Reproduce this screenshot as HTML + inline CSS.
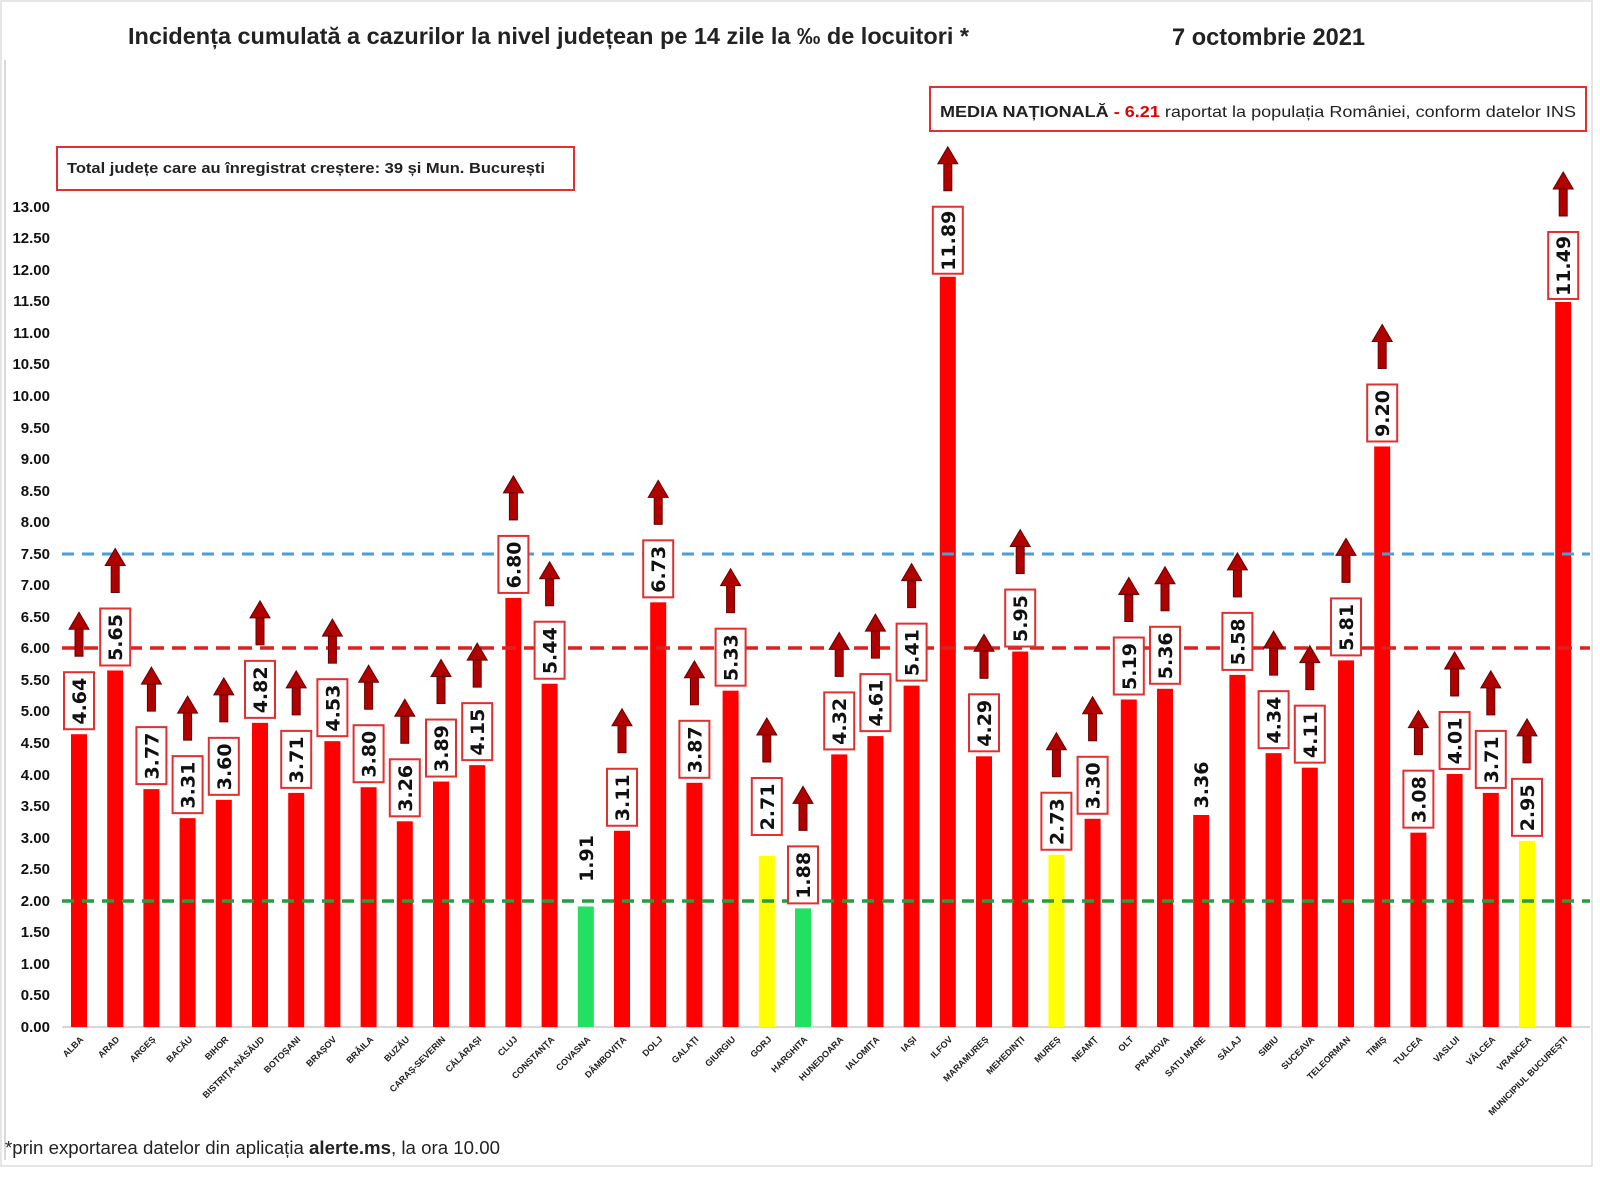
<!DOCTYPE html>
<html><head><meta charset="utf-8"><style>
html,body{margin:0;padding:0;background:#fff;width:1600px;height:1200px;overflow:hidden}
svg{display:block;font-family:"Liberation Sans",sans-serif}
.yl{font-size:15px;font-weight:bold;fill:#111;text-anchor:end}
.xl{font-size:9px;font-weight:bold;fill:#222;text-anchor:end}
.v{font-size:19px;font-weight:bold;fill:#111;text-anchor:middle;font-family:"DejaVu Sans",sans-serif}
.bx{fill:#fff;stroke:#e03030;stroke-width:2}
.ar{fill:#b00000;stroke:#600;stroke-width:1}
</style></head><body>
<svg width="1600" height="1200" viewBox="0 0 1600 1200">
<defs>
<g id="lab"><rect class="bx" x="-15" y="-62" width="30" height="57"/></g>
<g id="arr"><rect class="ar" x="-4" y="-106" width="8" height="28"/><polygon class="ar" points="-10,-105 10,-105 0,-122"/></g>
</defs>
<rect x="1" y="1" width="1591" height="1165" fill="none" stroke="#ddd" stroke-width="1.5"/>
<line x1="5" y1="60" x2="5" y2="1160" stroke="#ccc" stroke-width="1.5"/>
<text x="128" y="44" font-size="23" font-weight="bold" fill="#222" textLength="841" lengthAdjust="spacingAndGlyphs">Incidența cumulată a cazurilor la nivel județean pe 14 zile la ‰ de locuitori *</text>
<text x="1172" y="45" font-size="24" font-weight="bold" fill="#222" textLength="193" lengthAdjust="spacingAndGlyphs">7 octombrie 2021</text>
<rect x="930" y="87" width="656" height="44" fill="#fff" stroke="#e03030" stroke-width="2"/>
<text x="940" y="117" font-size="16" fill="#222" textLength="636" lengthAdjust="spacingAndGlyphs"><tspan font-weight="bold">MEDIA NAȚIONALĂ</tspan>  <tspan fill="#e00000" font-weight="bold"> - 6.21</tspan> raportat la populația României, conform datelor INS</text>
<rect x="57" y="147" width="517" height="43" fill="#fff" stroke="#e03030" stroke-width="2"/>
<text x="67" y="173" font-size="15" font-weight="bold" fill="#222" textLength="478" lengthAdjust="spacingAndGlyphs">Total județe care au înregistrat creștere:  39 și Mun. București</text>
<g>
<text class="yl" x="50" y="1032">0.00</text><text class="yl" x="50" y="1000">0.50</text><text class="yl" x="50" y="969">1.00</text><text class="yl" x="50" y="937">1.50</text><text class="yl" x="50" y="906">2.00</text><text class="yl" x="50" y="874">2.50</text><text class="yl" x="50" y="843">3.00</text><text class="yl" x="50" y="811">3.50</text><text class="yl" x="50" y="780">4.00</text><text class="yl" x="50" y="748">4.50</text><text class="yl" x="50" y="716">5.00</text><text class="yl" x="50" y="685">5.50</text><text class="yl" x="50" y="653">6.00</text><text class="yl" x="50" y="622">6.50</text><text class="yl" x="50" y="590">7.00</text><text class="yl" x="50" y="559">7.50</text><text class="yl" x="50" y="527">8.00</text><text class="yl" x="50" y="496">8.50</text><text class="yl" x="50" y="464">9.00</text><text class="yl" x="50" y="433">9.50</text><text class="yl" x="50" y="401">10.00</text><text class="yl" x="50" y="369">10.50</text><text class="yl" x="50" y="338">11.00</text><text class="yl" x="50" y="306">11.50</text><text class="yl" x="50" y="275">12.00</text><text class="yl" x="50" y="243">12.50</text><text class="yl" x="50" y="212">13.00</text>
</g>
<line x1="62" y1="1027" x2="1590" y2="1027" stroke="#ccc" stroke-width="1.5"/>
<g transform="translate(0,1027) scale(1,-63.1)">
<rect x="71" width="16" height="4.64" fill="#f00"/><rect x="107.2" width="16" height="5.65" fill="#f00"/><rect x="143.4" width="16" height="3.77" fill="#f00"/><rect x="179.6" width="16" height="3.31" fill="#f00"/><rect x="215.8" width="16" height="3.60" fill="#f00"/><rect x="252" width="16" height="4.82" fill="#f00"/><rect x="288.2" width="16" height="3.71" fill="#f00"/><rect x="324.4" width="16" height="4.53" fill="#f00"/><rect x="360.6" width="16" height="3.80" fill="#f00"/><rect x="396.8" width="16" height="3.26" fill="#f00"/><rect x="433" width="16" height="3.89" fill="#f00"/><rect x="469.2" width="16" height="4.15" fill="#f00"/><rect x="505.4" width="16" height="6.80" fill="#f00"/><rect x="541.6" width="16" height="5.44" fill="#f00"/><rect x="577.8" width="16" height="1.91" fill="#22e060"/><rect x="614" width="16" height="3.11" fill="#f00"/><rect x="650.2" width="16" height="6.73" fill="#f00"/><rect x="686.4" width="16" height="3.87" fill="#f00"/><rect x="722.6" width="16" height="5.33" fill="#f00"/><rect x="758.8" width="16" height="2.71" fill="#ffff00"/><rect x="795" width="16" height="1.88" fill="#22e060"/><rect x="831.2" width="16" height="4.32" fill="#f00"/><rect x="867.4" width="16" height="4.61" fill="#f00"/><rect x="903.6" width="16" height="5.41" fill="#f00"/><rect x="939.8" width="16" height="11.89" fill="#f00"/><rect x="976" width="16" height="4.29" fill="#f00"/><rect x="1012.2" width="16" height="5.95" fill="#f00"/><rect x="1048.4" width="16" height="2.73" fill="#ffff00"/><rect x="1084.6" width="16" height="3.30" fill="#f00"/><rect x="1120.8" width="16" height="5.19" fill="#f00"/><rect x="1157" width="16" height="5.36" fill="#f00"/><rect x="1193.2" width="16" height="3.36" fill="#f00"/><rect x="1229.4" width="16" height="5.58" fill="#f00"/><rect x="1265.6" width="16" height="4.34" fill="#f00"/><rect x="1301.8" width="16" height="4.11" fill="#f00"/><rect x="1338" width="16" height="5.81" fill="#f00"/><rect x="1374.2" width="16" height="9.20" fill="#f00"/><rect x="1410.4" width="16" height="3.08" fill="#f00"/><rect x="1446.6" width="16" height="4.01" fill="#f00"/><rect x="1482.8" width="16" height="3.71" fill="#f00"/><rect x="1519" width="16" height="2.95" fill="#ffff00"/><rect x="1555.2" width="16" height="11.49" fill="#f00"/>
</g>
<line x1="62" y1="554" x2="1590" y2="554" stroke="#4a9fd8" stroke-width="3" stroke-dasharray="12,8"/>
<line x1="62" y1="648" x2="1590" y2="648" stroke="#e02020" stroke-width="3.5" stroke-dasharray="14,8"/>
<line x1="62" y1="901" x2="1590" y2="901" stroke="#22a040" stroke-width="3.5" stroke-dasharray="12,8"/>
<!-- labels: transform origin = bar top -->
<g transform="translate(79,1027) scale(63.1) translate(0,-4.64) scale(0.015848)"><use href="#lab"/><use href="#arr"/><text class="v" transform="translate(7,-33) rotate(-90)">4.64</text></g>
<g transform="translate(115.2,1027) scale(63.1) translate(0,-5.65) scale(0.015848)"><use href="#lab"/><use href="#arr"/><text class="v" transform="translate(7,-33) rotate(-90)">5.65</text></g>
<g transform="translate(151.4,1027) scale(63.1) translate(0,-3.77) scale(0.015848)"><use href="#lab"/><use href="#arr"/><text class="v" transform="translate(7,-33) rotate(-90)">3.77</text></g>
<g transform="translate(187.6,1027) scale(63.1) translate(0,-3.31) scale(0.015848)"><use href="#lab"/><use href="#arr"/><text class="v" transform="translate(7,-33) rotate(-90)">3.31</text></g>
<g transform="translate(223.8,1027) scale(63.1) translate(0,-3.60) scale(0.015848)"><use href="#lab"/><use href="#arr"/><text class="v" transform="translate(7,-33) rotate(-90)">3.60</text></g>
<g transform="translate(260,1027) scale(63.1) translate(0,-4.82) scale(0.015848)"><use href="#lab"/><use href="#arr"/><text class="v" transform="translate(7,-33) rotate(-90)">4.82</text></g>
<g transform="translate(296.2,1027) scale(63.1) translate(0,-3.71) scale(0.015848)"><use href="#lab"/><use href="#arr"/><text class="v" transform="translate(7,-33) rotate(-90)">3.71</text></g>
<g transform="translate(332.4,1027) scale(63.1) translate(0,-4.53) scale(0.015848)"><use href="#lab"/><use href="#arr"/><text class="v" transform="translate(7,-33) rotate(-90)">4.53</text></g>
<g transform="translate(368.6,1027) scale(63.1) translate(0,-3.80) scale(0.015848)"><use href="#lab"/><use href="#arr"/><text class="v" transform="translate(7,-33) rotate(-90)">3.80</text></g>
<g transform="translate(404.8,1027) scale(63.1) translate(0,-3.26) scale(0.015848)"><use href="#lab"/><use href="#arr"/><text class="v" transform="translate(7,-33) rotate(-90)">3.26</text></g>
<g transform="translate(441,1027) scale(63.1) translate(0,-3.89) scale(0.015848)"><use href="#lab"/><use href="#arr"/><text class="v" transform="translate(7,-33) rotate(-90)">3.89</text></g>
<g transform="translate(477.2,1027) scale(63.1) translate(0,-4.15) scale(0.015848)"><use href="#lab"/><use href="#arr"/><text class="v" transform="translate(7,-33) rotate(-90)">4.15</text></g>
<g transform="translate(513.4,1027) scale(63.1) translate(0,-6.80) scale(0.015848)"><use href="#lab"/><use href="#arr"/><text class="v" transform="translate(7,-33) rotate(-90)">6.80</text></g>
<g transform="translate(549.6,1027) scale(63.1) translate(0,-5.44) scale(0.015848)"><use href="#lab"/><use href="#arr"/><text class="v" transform="translate(7,-33) rotate(-90)">5.44</text></g>
<g transform="translate(585.8,1027) scale(63.1) translate(0,-1.91) scale(0.015848)"><text class="v" transform="translate(7,-48) rotate(-90)">1.91</text></g>
<g transform="translate(622,1027) scale(63.1) translate(0,-3.11) scale(0.015848)"><use href="#lab"/><use href="#arr"/><text class="v" transform="translate(7,-33) rotate(-90)">3.11</text></g>
<g transform="translate(658.2,1027) scale(63.1) translate(0,-6.73) scale(0.015848)"><use href="#lab"/><use href="#arr"/><text class="v" transform="translate(7,-33) rotate(-90)">6.73</text></g>
<g transform="translate(694.4,1027) scale(63.1) translate(0,-3.87) scale(0.015848)"><use href="#lab"/><use href="#arr"/><text class="v" transform="translate(7,-33) rotate(-90)">3.87</text></g>
<g transform="translate(730.6,1027) scale(63.1) translate(0,-5.33) scale(0.015848)"><use href="#lab"/><use href="#arr"/><text class="v" transform="translate(7,-33) rotate(-90)">5.33</text></g>
<g transform="translate(766.8,1027) scale(63.1) translate(0,-2.71) scale(0.015848)"><g transform="translate(0,-16)"><use href="#lab"/><use href="#arr"/><text class="v" transform="translate(7,-33) rotate(-90)">2.71</text></g></g>
<g transform="translate(803,1027) scale(63.1) translate(0,-1.88) scale(0.015848)"><use href="#lab"/><use href="#arr"/><text class="v" transform="translate(7,-33) rotate(-90)">1.88</text></g>
<g transform="translate(839.2,1027) scale(63.1) translate(0,-4.32) scale(0.015848)"><use href="#lab"/><use href="#arr"/><text class="v" transform="translate(7,-33) rotate(-90)">4.32</text></g>
<g transform="translate(875.4,1027) scale(63.1) translate(0,-4.61) scale(0.015848)"><use href="#lab"/><use href="#arr"/><text class="v" transform="translate(7,-33) rotate(-90)">4.61</text></g>
<g transform="translate(911.6,1027) scale(63.1) translate(0,-5.41) scale(0.015848)"><use href="#lab"/><use href="#arr"/><text class="v" transform="translate(7,-33) rotate(-90)">5.41</text></g>
<g transform="translate(947.8,1027) scale(63.1) translate(0,-11.89) scale(0.015848)"><rect class="bx" x="-15" y="-70" width="30" height="67"/><g transform="translate(0,-8)"><use href="#arr"/></g><text class="v" transform="translate(7,-36) rotate(-90)">11.89</text></g>
<g transform="translate(984,1027) scale(63.1) translate(0,-4.29) scale(0.015848)"><use href="#lab"/><use href="#arr"/><text class="v" transform="translate(7,-33) rotate(-90)">4.29</text></g>
<g transform="translate(1020.2,1027) scale(63.1) translate(0,-5.95) scale(0.015848)"><use href="#lab"/><use href="#arr"/><text class="v" transform="translate(7,-33) rotate(-90)">5.95</text></g>
<g transform="translate(1056.4,1027) scale(63.1) translate(0,-2.73) scale(0.015848)"><use href="#lab"/><use href="#arr"/><text class="v" transform="translate(7,-33) rotate(-90)">2.73</text></g>
<g transform="translate(1092.6,1027) scale(63.1) translate(0,-3.30) scale(0.015848)"><use href="#lab"/><use href="#arr"/><text class="v" transform="translate(7,-33) rotate(-90)">3.30</text></g>
<g transform="translate(1128.8,1027) scale(63.1) translate(0,-5.19) scale(0.015848)"><use href="#lab"/><use href="#arr"/><text class="v" transform="translate(7,-33) rotate(-90)">5.19</text></g>
<g transform="translate(1165,1027) scale(63.1) translate(0,-5.36) scale(0.015848)"><use href="#lab"/><use href="#arr"/><text class="v" transform="translate(7,-33) rotate(-90)">5.36</text></g>
<g transform="translate(1201.2,1027) scale(63.1) translate(0,-3.36) scale(0.015848)"><text class="v" transform="translate(7,-30) rotate(-90)">3.36</text></g>
<g transform="translate(1237.4,1027) scale(63.1) translate(0,-5.58) scale(0.015848)"><use href="#lab"/><use href="#arr"/><text class="v" transform="translate(7,-33) rotate(-90)">5.58</text></g>
<g transform="translate(1273.6,1027) scale(63.1) translate(0,-4.34) scale(0.015848)"><use href="#lab"/><use href="#arr"/><text class="v" transform="translate(7,-33) rotate(-90)">4.34</text></g>
<g transform="translate(1309.8,1027) scale(63.1) translate(0,-4.11) scale(0.015848)"><use href="#lab"/><use href="#arr"/><text class="v" transform="translate(7,-33) rotate(-90)">4.11</text></g>
<g transform="translate(1346,1027) scale(63.1) translate(0,-5.81) scale(0.015848)"><use href="#lab"/><use href="#arr"/><text class="v" transform="translate(7,-33) rotate(-90)">5.81</text></g>
<g transform="translate(1382.2,1027) scale(63.1) translate(0,-9.20) scale(0.015848)"><use href="#lab"/><use href="#arr"/><text class="v" transform="translate(7,-33) rotate(-90)">9.20</text></g>
<g transform="translate(1418.4,1027) scale(63.1) translate(0,-3.08) scale(0.015848)"><use href="#lab"/><use href="#arr"/><text class="v" transform="translate(7,-33) rotate(-90)">3.08</text></g>
<g transform="translate(1454.6,1027) scale(63.1) translate(0,-4.01) scale(0.015848)"><use href="#lab"/><use href="#arr"/><text class="v" transform="translate(7,-33) rotate(-90)">4.01</text></g>
<g transform="translate(1490.8,1027) scale(63.1) translate(0,-3.71) scale(0.015848)"><use href="#lab"/><use href="#arr"/><text class="v" transform="translate(7,-33) rotate(-90)">3.71</text></g>
<g transform="translate(1527,1027) scale(63.1) translate(0,-2.95) scale(0.015848)"><use href="#lab"/><use href="#arr"/><text class="v" transform="translate(7,-33) rotate(-90)">2.95</text></g>
<g transform="translate(1563.2,1027) scale(63.1) translate(0,-11.49) scale(0.015848)"><rect class="bx" x="-15" y="-70" width="30" height="67"/><g transform="translate(0,-8)"><use href="#arr"/></g><text class="v" transform="translate(7,-36) rotate(-90)">11.49</text></g>
<!-- x labels -->
<g>
<text class="xl" transform="translate(84,1040) rotate(-45)">ALBA</text>
<text class="xl" transform="translate(120,1040) rotate(-45)">ARAD</text>
<text class="xl" transform="translate(156,1040) rotate(-45)">ARGEȘ</text>
<text class="xl" transform="translate(193,1040) rotate(-45)">BACĂU</text>
<text class="xl" transform="translate(229,1040) rotate(-45)">BIHOR</text>
<text class="xl" transform="translate(265,1040) rotate(-45)">BISTRIȚA-NĂSĂUD</text>
<text class="xl" transform="translate(301,1040) rotate(-45)">BOTOȘANI</text>
<text class="xl" transform="translate(337,1040) rotate(-45)">BRAȘOV</text>
<text class="xl" transform="translate(374,1040) rotate(-45)">BRĂILA</text>
<text class="xl" transform="translate(410,1040) rotate(-45)">BUZĂU</text>
<text class="xl" transform="translate(446,1040) rotate(-45)">CARAȘ-SEVERIN</text>
<text class="xl" transform="translate(482,1040) rotate(-45)">CĂLĂRAȘI</text>
<text class="xl" transform="translate(518,1040) rotate(-45)">CLUJ</text>
<text class="xl" transform="translate(555,1040) rotate(-45)">CONSTANȚA</text>
<text class="xl" transform="translate(591,1040) rotate(-45)">COVASNA</text>
<text class="xl" transform="translate(627,1040) rotate(-45)">DÂMBOVIȚA</text>
<text class="xl" transform="translate(663,1040) rotate(-45)">DOLJ</text>
<text class="xl" transform="translate(699,1040) rotate(-45)">GALAȚI</text>
<text class="xl" transform="translate(736,1040) rotate(-45)">GIURGIU</text>
<text class="xl" transform="translate(772,1040) rotate(-45)">GORJ</text>
<text class="xl" transform="translate(808,1040) rotate(-45)">HARGHITA</text>
<text class="xl" transform="translate(844,1040) rotate(-45)">HUNEDOARA</text>
<text class="xl" transform="translate(880,1040) rotate(-45)">IALOMIȚA</text>
<text class="xl" transform="translate(917,1040) rotate(-45)">IAȘI</text>
<text class="xl" transform="translate(953,1040) rotate(-45)">ILFOV</text>
<text class="xl" transform="translate(989,1040) rotate(-45)">MARAMUREȘ</text>
<text class="xl" transform="translate(1025,1040) rotate(-45)">MEHEDINȚI</text>
<text class="xl" transform="translate(1061,1040) rotate(-45)">MUREȘ</text>
<text class="xl" transform="translate(1098,1040) rotate(-45)">NEAMȚ</text>
<text class="xl" transform="translate(1134,1040) rotate(-45)">OLT</text>
<text class="xl" transform="translate(1170,1040) rotate(-45)">PRAHOVA</text>
<text class="xl" transform="translate(1206,1040) rotate(-45)">SATU MARE</text>
<text class="xl" transform="translate(1242,1040) rotate(-45)">SĂLAJ</text>
<text class="xl" transform="translate(1279,1040) rotate(-45)">SIBIU</text>
<text class="xl" transform="translate(1315,1040) rotate(-45)">SUCEAVA</text>
<text class="xl" transform="translate(1351,1040) rotate(-45)">TELEORMAN</text>
<text class="xl" transform="translate(1387,1040) rotate(-45)">TIMIȘ</text>
<text class="xl" transform="translate(1423,1040) rotate(-45)">TULCEA</text>
<text class="xl" transform="translate(1460,1040) rotate(-45)">VASLUI</text>
<text class="xl" transform="translate(1496,1040) rotate(-45)">VÂLCEA</text>
<text class="xl" transform="translate(1532,1040) rotate(-45)">VRANCEA</text>
<text class="xl" transform="translate(1568,1040) rotate(-45)">MUNICIPIUL BUCUREȘTI</text>
</g>
<text x="5" y="1154" font-size="18" fill="#222" textLength="495" lengthAdjust="spacingAndGlyphs">*prin exportarea datelor din aplicația <tspan font-weight="bold">alerte.ms</tspan>, la ora 10.00</text>
</svg>
</body></html>
